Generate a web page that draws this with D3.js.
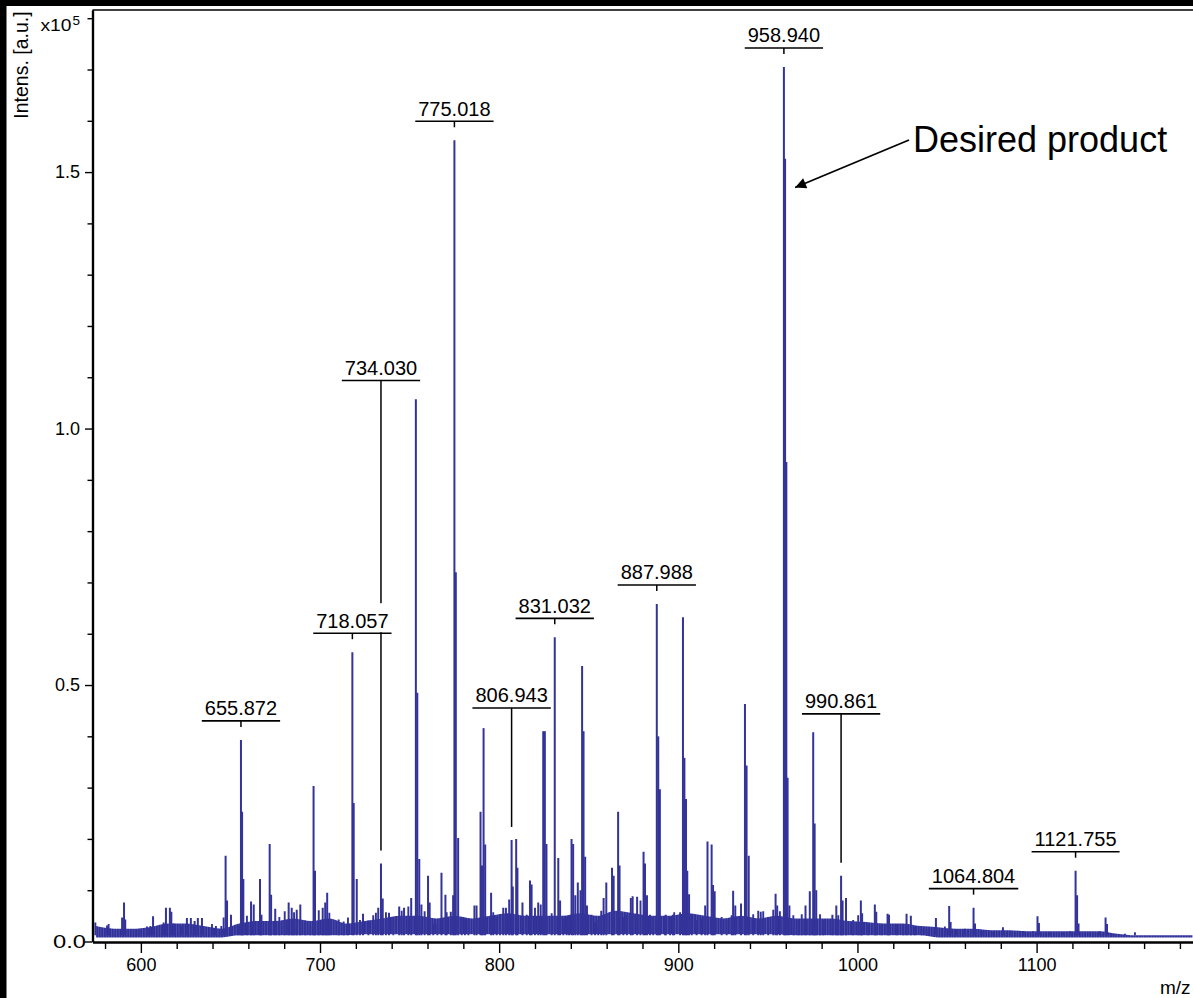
<!DOCTYPE html>
<html><head><meta charset="utf-8">
<script src="https://cdn.jsdelivr.net/npm/d3@7"></script>
<style>
body{margin:0;background:#fff}
svg{display:block}
text{font-family:"Liberation Sans",Arial,Helvetica,sans-serif;fill:#000}
</style>
</head><body>
<svg id="chart" width="1193" height="998"></svg>
<script>
// ---------------- data (intensity in units of 10^5) ----------------
const peakMz = [
 590.6,606.8,614.0,616.2,617.0,625.7,627.9,630.0,631.8,634.1,
 647.3,648.1,650.3,655.872,656.5,657.2,661.5,663.0,666.5,667.3,
 671.9,672.7,675.0,682.5,684.2,687.0,689.0,696.4,697.2,701.5,
 702.9,704.0,718.057,718.8,720.5,724.0,732.5,734.030,735.0,738.5,
 744.2,746.9,750.9,753.5,754.3,755.4,756.6,760.3,761.2,767.8,
 770.0,773.0,774.3,775.018,775.8,777.1,786.2,789.6,790.4,791.3,
 792.2,795.5,802.3,805.6,806.943,807.6,809.5,810.2,813.0,817.2,
 818.1,821.8,824.6,825.5,826.4,831.032,833.0,834.0,839.0,840.4,
 841.3,842.5,843.9,845.4,846.3,847.1,848.0,849.0,857.0,858.3,
 859.8,863.0,863.9,866.4,867.2,873.5,874.5,877.0,880.6,881.4,
 882.5,887.988,888.8,889.7,893.0,897.0,902.6,903.4,904.3,905.0,
 906.0,915.0,916.3,918.6,919.4,920.3,930.6,931.8,935.0,937.2,
 938.1,939.3,946.0,954.3,955.2,958.940,959.6,960.3,961.0,962.0,
 971.0,973.4,975.3,976.1,977.0,986.0,988.2,990.861,991.7,993.6,
 1001.9,1002.6,1009.7,1010.5,1016.8,1017.6,1027.4,1029.8,1043.8,1051.2,
 1052.0,1060.0,1064.804,1065.6,1081.2,1100.5,1101.3,1121.755,1122.6,1123.4,
 1138.5,1139.3
];
const peakInt = [
 0.076,0.049,0.066,0.066,0.058,0.046,0.046,0.040,0.046,0.046,
 0.167,0.080,0.052,0.393,0.253,0.122,0.078,0.072,0.122,0.052,
 0.190,0.091,0.064,0.076,0.066,0.062,0.072,0.303,0.138,0.066,
 0.076,0.095,0.564,0.270,0.122,0.054,0.066,0.152,0.084,0.056,
 0.068,0.066,0.085,1.057,0.485,0.161,0.072,0.128,0.076,0.134,
 0.091,0.058,0.090,1.562,0.720,0.202,0.070,0.253,0.148,0.416,
 0.189,0.095,0.066,0.082,0.198,0.107,0.200,0.144,0.076,0.119,
 0.111,0.076,0.410,0.410,0.190,0.593,0.163,0.080,0.050,0.200,
 0.190,0.090,0.115,0.100,0.537,0.410,0.165,0.070,0.060,0.085,
 0.115,0.144,0.128,0.253,0.148,0.085,0.088,0.087,0.175,0.152,
 0.090,0.658,0.400,0.297,0.052,0.052,0.632,0.358,0.278,0.138,
 0.092,0.070,0.195,0.189,0.110,0.098,0.099,0.070,0.074,0.463,
 0.343,0.167,0.058,0.093,0.070,1.705,1.526,0.935,0.319,0.070,
 0.070,0.098,0.408,0.230,0.100,0.052,0.070,0.128,0.080,0.085,
 0.080,0.055,0.072,0.058,0.054,0.052,0.054,0.050,0.046,0.069,
 0.038,0.025,0.066,0.035,0.028,0.049,0.036,0.138,0.090,0.035,
 0.047,0.034
];
// small noise spikes
const noiseMz = [
 574.6,581.1,582.0,589.5,591.3,598.8,603.4,605.3,612.7,618.3,623.0,639.7,641.9,644.9,646.2,654.6,659.2,677.3,680.3,685.5,
 691.8,694.6,699.3,705.2,710.4,713.2,715.6,722.3,727.0,729.7,731.2,736.8,740.9,745.6,749.3,758.4,763.2,765.5,770.7,779.1,
 780.9,782.8,787.4,796.7,798.6,800.5,803.8,815.4,820.0,823.2,829.3,835.8,837.7,851.6,853.5,855.3,869.3,871.3,878.9,884.2,
 886.0,892.6,895.4,897.7,901.0,907.5,910.2,913.0,924.2,927.0,929.8,941.8,944.6,947.4,950.2,953.0,956.7,964.2,967.0,968.9,
 979.1,980.9,989.3,997.6,1000.4,1006.0,1013.5,1021.9,1025.6,1032.1,1035.8,1038.6,1048.8,1055.4,1070.2,1075.8,1085.1,1092.6,1098.1,1107.4,
 1114.9,1118.6,1129.8,1135.4,1142.8,1149.3,1154.9
];
const noiseInt = [
 0.037,0.031,0.034,0.047,0.043,0.024,0.029,0.030,0.037,0.035,0.030,0.034,0.030,0.030,0.047,0.030,0.050,0.048,0.059,0.057,
 0.041,0.030,0.061,0.056,0.043,0.039,0.047,0.042,0.041,0.051,0.056,0.057,0.048,0.060,0.068,0.059,0.034,0.034,0.057,0.048,
 0.045,0.043,0.070,0.057,0.048,0.053,0.066,0.052,0.066,0.072,0.055,0.045,0.048,0.052,0.037,0.042,0.048,0.051,0.080,0.052,
 0.048,0.050,0.048,0.057,0.057,0.053,0.042,0.045,0.048,0.042,0.051,0.053,0.060,0.059,0.048,0.062,0.059,0.051,0.042,0.053,
 0.053,0.042,0.051,0.042,0.051,0.034,0.033,0.034,0.034,0.029,0.024,0.024,0.029,0.024,0.020,0.018,0.020,0.020,0.020,0.018,
 0.018,0.020,0.018,0.020,0.015,0.015,0.018
];
// noise "grass" envelope, sampled every 10 m/z
const grassMz = [575,585,595,605,615,625,635,645,655,665,675,685,695,705,715,725,735,745,755,765,
 775,785,795,805,815,825,835,845,855,865,875,885,895,905,915,925,935,945,955,965,
 975,985,995,1005,1015,1025,1035,1045,1055,1065,1075,1085,1095,1105,1115,1125,1135,1145,1155,1165,1175,1187];
const grassTop = [0.030,0.025,0.025,0.028,0.035,0.035,0.030,0.025,0.035,0.040,0.040,0.045,0.040,0.045,0.035,0.040,0.045,0.050,0.050,0.045,
 0.050,0.045,0.050,0.055,0.050,0.050,0.050,0.055,0.050,0.060,0.055,0.050,0.050,0.055,0.050,0.045,0.050,0.045,0.050,0.045,
 0.045,0.045,0.040,0.038,0.035,0.035,0.030,0.028,0.025,0.025,0.022,0.022,0.020,0.020,0.020,0.020,0.020,0.015,0.012,0.012,0.012,0.012];
const grassFloor = [0.008,0.008,0.008,0.008,0.008,0.008,0.008,0.008,0.012,0.012,0.012,0.012,0.012,0.012,0.012,0.014,0.014,0.014,0.014,0.014,
 0.014,0.014,0.014,0.014,0.014,0.014,0.014,0.014,0.014,0.014,0.014,0.014,0.014,0.014,0.014,0.014,0.014,0.014,0.014,0.012,
 0.012,0.012,0.012,0.012,0.012,0.012,0.012,0.008,0.008,0.008,0.008,0.008,0.008,0.008,0.008,0.008,0.008,0.008,0.008,0.008,0.008,0.008];

const labelMz = [734.030,806.943,990.861,655.872,718.057,775.018,831.032,887.988,958.940,1064.804,1121.755];
const labelText = ["734.030","806.943","990.861","655.872","718.057","775.018","831.032","887.988","958.940","1064.804","1121.755"];

const xMajorTicks = [600,700,800,900,1000,1100];
const xMinorTicks = [580,620,640,660,680,720,740,760,780,820,840,860,880,920,940,960,980,1020,1040,1060,1080,1120,1140,1160,1180];
const yMajorTicks = [0.0,0.5,1.0,1.5];
const yMinorTicks = [0.1,0.2,0.3,0.4,0.6,0.7,0.8,0.9,1.1,1.2,1.3,1.4,1.6,1.7,1.8];
const annotationText = "Desired product";
const annotationPeak = 959.6;

// ---------------- layout ----------------
const W = 1193, H = 998;
const L = {left: 92.5, right: 1193, top: 10, bottom: 941.5};
const leaderLen = {"734.030": 470, "806.943": 119, "990.861": 149}; // px
const blue = "#333399";

const svg = d3.select("#chart");
const x = d3.scaleLinear().domain([573, 1187.3]).range([L.left, L.right]);
const y = d3.scaleLinear().domain([0, 1.816]).range([L.bottom, L.top]);

const defs = svg.append("defs");
const pat = defs.append("pattern").attr("id","comb").attr("patternUnits","userSpaceOnUse")
  .attr("width",2.6).attr("height",10);
pat.append("rect").attr("width",2.6).attr("height",10).attr("fill","#6a6ab4");
pat.append("rect").attr("width",2.1).attr("height",10).attr("fill","#30309a");
defs.append("marker").attr("id","arrow").attr("viewBox","0 0 10 10").attr("refX",10).attr("refY",5)
  .attr("markerWidth",14).attr("markerHeight",11).attr("markerUnits","userSpaceOnUse").attr("orient","auto")
  .append("path").attr("d","M0,0 L10,5 L0,10 Z").attr("fill","#000");

// frame
svg.append("rect").attr("x",0).attr("y",0).attr("width",W).attr("height",6).attr("fill","#000");
svg.append("rect").attr("x",0).attr("y",0).attr("width",6.5).attr("height",H).attr("fill","#000");
svg.append("line").attr("x1",L.left).attr("x2",W).attr("y1",10).attr("y2",10)
  .attr("stroke","#000").attr("stroke-width",1.6);

defs.append("clipPath").attr("id","plotclip").append("rect")
  .attr("x",L.left+1).attr("y",L.top+1).attr("width",L.right-L.left).attr("height",L.bottom-L.top);
const plot = svg.append("g").attr("clip-path","url(#plotclip)");

// noise band
const grass = grassMz.map((m,i)=>({m, t: grassTop[i], f: grassFloor[i]}));
plot.append("path").datum(grass)
  .attr("d", d3.area().x(d=>x(d.m)).y0(d=>y(d.f)).y1(d=>y(d.t)).curve(d3.curveMonotoneX))
  .attr("fill","url(#comb)");

// spikes
const noise = noiseMz.map((m,i)=>({m, v: noiseInt[i]}));
const peaks = peakMz.map((m,i)=>({m, v: peakInt[i]}));
plot.selectAll("line.nz").data(noise).join("line").attr("class","nz")
  .attr("x1",d=>x(d.m)).attr("x2",d=>x(d.m))
  .attr("y1",y(0.012)).attr("y2",d=>y(d.v))
  .attr("stroke",blue).attr("stroke-width",1.9);
plot.selectAll("line.pk").data(peaks).join("line").attr("class","pk")
  .attr("x1",d=>x(d.m)).attr("x2",d=>x(d.m))
  .attr("y1",y(0.012)).attr("y2",d=>y(d.v))
  .attr("stroke",blue).attr("stroke-width",2);

// axes
const xAxisG = svg.append("g").attr("transform",`translate(0,${L.bottom+0.5})`);
xAxisG.call(d3.axisBottom(x).tickValues(xMinorTicks).tickSize(7).tickFormat("").tickSizeOuter(0));
xAxisG.append("g").call(d3.axisBottom(x).tickValues(xMajorTicks).tickSize(11).tickPadding(5).tickFormat(d3.format("d")).tickSizeOuter(0));
xAxisG.selectAll("path.domain").attr("stroke","#000").attr("stroke-width",2.2);
xAxisG.selectAll(".tick line").attr("stroke","#000").attr("stroke-width",1.4);
xAxisG.selectAll(".tick text").attr("font-size",18).attr("font-family","Liberation Sans, Arial, sans-serif").attr("fill","#111");

const yAxisG = svg.append("g").attr("transform",`translate(${L.left},0)`);
yAxisG.call(d3.axisLeft(y).tickValues(yMinorTicks).tickSize(5).tickFormat("").tickSizeOuter(0));
yAxisG.append("g").call(d3.axisLeft(y).tickValues(yMajorTicks).tickSize(7.5).tickPadding(5).tickFormat(d3.format(".1f")).tickSizeOuter(0));
yAxisG.selectAll("path.domain").attr("stroke","#000").attr("stroke-width",2.2);
yAxisG.selectAll(".tick line").attr("stroke","#000").attr("stroke-width",1.4);
yAxisG.selectAll(".tick text").attr("font-size",18).attr("font-family","Liberation Sans, Arial, sans-serif").attr("fill","#111");
yAxisG.selectAll(".tick text").filter(d=>d===0)
  .attr("text-anchor","start").attr("x",53-L.left).attr("font-size",19).attr("textLength",33).attr("lengthAdjust","spacingAndGlyphs");

// exponent label at the top tick
svg.append("text").attr("x",40.5).attr("y",y(1.8)+12.5).attr("font-size",16)
  .attr("textLength",31).attr("lengthAdjust","spacingAndGlyphs").text("x10");
svg.append("text").attr("x",72.5).attr("y",y(1.8)+7).attr("font-size",13.5).text("5");

// axis titles
svg.append("text").attr("transform",`translate(28,65) rotate(-90)`).attr("text-anchor","middle")
  .attr("font-size",19.5).text("Intens. [a.u.]");
svg.append("text").attr("x",1160).attr("y",994).attr("font-size",19).text("m/z");

// peak labels
const peakTop = m => { const p = peaks.find(d=>Math.abs(d.m-m)<1e-6); return y(p.v); };
labelMz.forEach((m,i)=>{
  const cx = x(m);
  const len = leaderLen[labelText[i]] || 6;
  const yEnd = peakTop(m) - 13;
  const yLine = yEnd - len;
  const g = svg.append("g");
  const bg = g.append("rect").attr("fill","#fff");
  const t = g.append("text").attr("x",cx).attr("y",yLine-5.5).attr("text-anchor","middle")
    .attr("font-size",20).text(labelText[i]);
  const w = t.node().getComputedTextLength() + 6;
  bg.attr("x",cx-w/2).attr("y",yLine-30).attr("width",w).attr("height",29);
  g.append("line").attr("x1",cx-w/2).attr("x2",cx+w/2).attr("y1",yLine).attr("y2",yLine)
    .attr("stroke","#000").attr("stroke-width",1.6);
  g.append("line").attr("x1",cx).attr("x2",cx).attr("y1",yLine).attr("y2",yEnd)
    .attr("stroke","#000").attr("stroke-width",1.5);
});

// annotation
const tipX = x(annotationPeak) + 10, tipY = y(1.47);
svg.append("line").attr("x1",909).attr("y1",140).attr("x2",tipX).attr("y2",tipY)
  .attr("stroke","#000").attr("stroke-width",1.8).attr("marker-end","url(#arrow)");
svg.append("text").attr("x",913).attr("y",152).attr("font-size",36).text(annotationText);
</script>
</body></html>
